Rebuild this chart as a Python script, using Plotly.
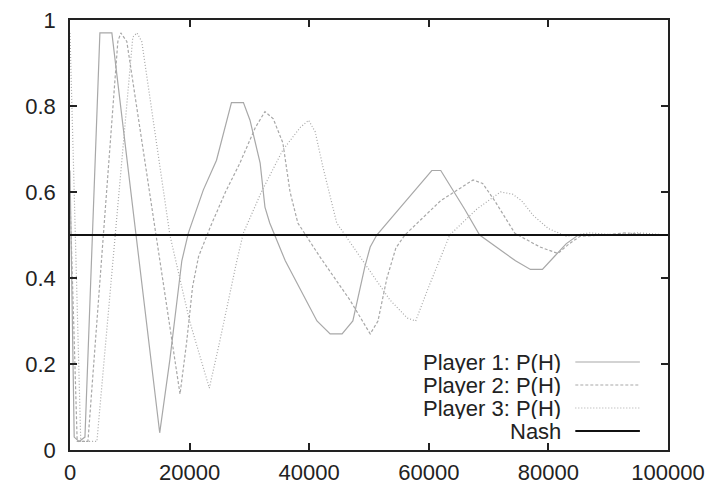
import plotly.graph_objects as go

# ---- data ----
p1_x = [0, 700, 1500, 2500, 5000, 7000, 15000, 16700, 18700, 19800, 22300, 24500, 27000, 29000,
        30100, 31800, 32600, 33400, 36000, 39000, 41300, 43500, 45500, 47300, 49300, 50200, 51300,
        55000, 58000, 60500, 62000, 64000, 66000, 68500, 72000, 74500, 77000, 79000, 81000, 83000,
        85000, 88000, 92000, 96000, 100000]
p1_y = [0.65, 0.03, 0.02, 0.03, 0.97, 0.97, 0.04, 0.21, 0.44, 0.505, 0.605, 0.674, 0.808, 0.808,
        0.767, 0.667, 0.565, 0.528, 0.44, 0.36, 0.30, 0.27, 0.27, 0.30, 0.426, 0.472, 0.50,
        0.56, 0.61, 0.65, 0.65, 0.605, 0.56, 0.50, 0.465, 0.44, 0.42, 0.42, 0.45, 0.48,
        0.50, 0.50, 0.50, 0.50, 0.50]

p2_x = [0, 1200, 3000, 8000, 8500, 9500, 18400, 19500, 20500, 21500, 23500, 26000, 28400, 31000,
        32600, 34000, 35600, 36800, 38100, 41800, 46800, 50200, 51500, 53000, 54500, 56000, 62000,
        67400, 69000, 71000, 74400, 78600, 81600, 83500, 85300, 89000, 93000, 97000, 100000]
p2_y = [0.59, 0.02, 0.02, 0.95, 0.97, 0.95, 0.13, 0.25, 0.38, 0.45, 0.52, 0.60, 0.667, 0.75,
        0.787, 0.77, 0.714, 0.60, 0.528, 0.449, 0.349, 0.27, 0.30, 0.40, 0.47, 0.50, 0.58,
        0.628, 0.62, 0.58, 0.504, 0.472, 0.457, 0.48, 0.497, 0.50, 0.505, 0.50, 0.50]

p3_x = [0, 1800, 4500, 10500, 11200, 12000, 16700, 20000, 23300, 25000, 27900, 29000, 32000,
        35600, 38500, 39900, 41000, 42300, 44600, 49700, 53500, 56400, 57800, 60000, 62000, 63500,
        68000, 72000, 74000, 75500, 77500, 80000, 83000, 87000, 91000, 95000, 100000]
p3_y = [0.97, 0.02, 0.02, 0.96, 0.97, 0.95, 0.50, 0.30, 0.144, 0.25, 0.44, 0.505, 0.60,
        0.698, 0.75, 0.767, 0.74, 0.658, 0.528, 0.426, 0.349, 0.307, 0.30, 0.38, 0.45, 0.50,
        0.56, 0.60, 0.595, 0.58, 0.545, 0.515, 0.497, 0.505, 0.50, 0.505, 0.50]

nash_x = [0, 100000]
nash_y = [0.5, 0.5]

x_ticks = [0, 20000, 40000, 60000, 80000, 100000]
x_tick_text = ["0", "20000", "40000", "60000", "80000", "100000"]
y_ticks = [0, 0.2, 0.4, 0.6, 0.8, 1]
y_tick_text = ["0", "0.2", "0.4", "0.6", "0.8", "1"]

legend_names = ["Player 1: P(H)", "Player 2: P(H)", "Player 3: P(H)", "Nash"]

# ---- styles ----
GREY = "#a8a8a8"
styles = [
    dict(color=GREY, width=1.2, dash="solid"),
    dict(color=GREY, width=1.2, dash="3px,2px"),
    dict(color=GREY, width=1.2, dash="1px,2px"),
    dict(color="#111111", width=2, dash="solid"),
]

fig = go.Figure()
for xs, ys, st, nm in zip([p1_x, p2_x, p3_x, nash_x], [p1_y, p2_y, p3_y, nash_y], styles, legend_names):
    fig.add_trace(go.Scatter(x=xs, y=ys, mode="lines", line=st, name=nm, showlegend=False,
                             hoverinfo="skip"))

FONT = dict(family="Liberation Sans, Arial, sans-serif", size=22, color="#222222")

# custom legend: text right-aligned, sample line to the right (gnuplot style)
leg_text_x = 0.823
leg_line_x0, leg_line_x1 = 0.845, 0.953
leg_rows = [0.2047, 0.1512, 0.0977, 0.0442]
for nm, st, yy in zip(legend_names, styles, leg_rows):
    fig.add_annotation(x=leg_text_x, y=yy, xref="paper", yref="paper", text=nm,
                       showarrow=False, xanchor="right", yanchor="middle", font=FONT,
                       height=22, borderpad=0)
    fig.add_shape(type="line", xref="paper", yref="paper", x0=leg_line_x0, x1=leg_line_x1,
                  y0=yy, y1=yy, line=st)

axis_common = dict(showline=True, linecolor="#222222", linewidth=1.6, mirror="allticks",
                   ticks="inside", ticklen=7, tickwidth=1.6, tickcolor="#222222",
                   showgrid=False, zeroline=False, tickfont=FONT, automargin=False)

fig.update_layout(
    template="none",
    width=712, height=486,
    margin=dict(l=70, r=44, t=20, b=36, pad=0),
    paper_bgcolor="white", plot_bgcolor="white",
    xaxis=dict(range=[0, 100000], tickvals=x_ticks, ticktext=x_tick_text,
               ticklabelstandoff=2, **axis_common),
    yaxis=dict(range=[0, 1], tickvals=y_ticks, ticktext=y_tick_text,
               ticklabelstandoff=8, **axis_common),
    showlegend=False,
)

fig.write_html("out.html", config={"displayModeBar": False})
